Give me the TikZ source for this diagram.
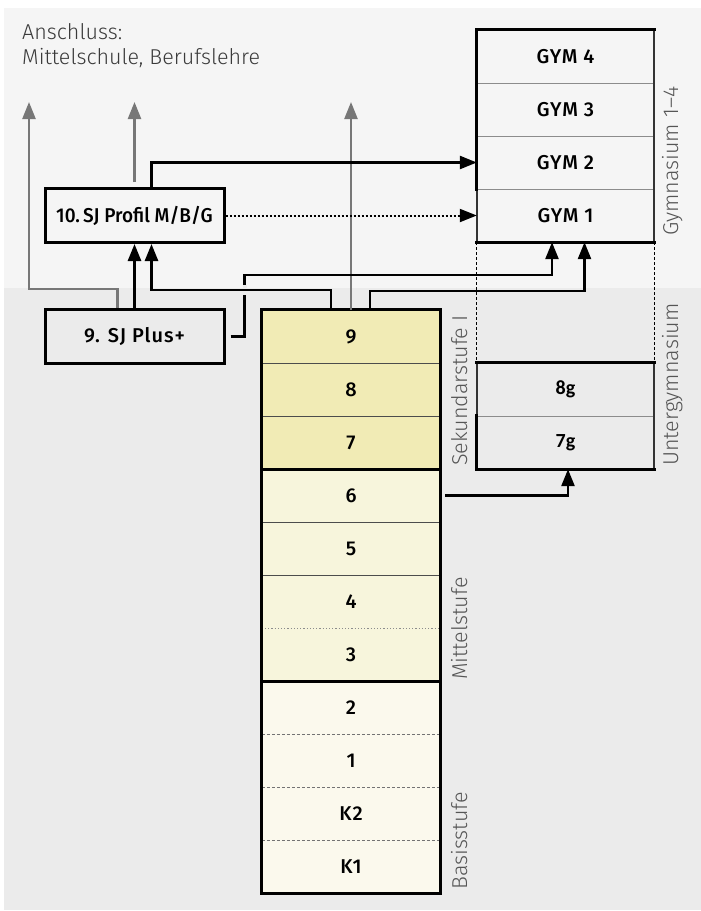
\documentclass[tikz,border=0pt]{standalone}
\usepackage{fontspec}
\setmainfont{Fira Sans}
\newfontfamily\carlito{Carlito}
\newfontfamily\gradefam{Fira Sans Medium}[LetterSpace=5]
\newfontfamily\lightfam{Fira Sans Light}
\usetikzlibrary{arrows.meta}

\definecolor{bgtop}{HTML}{F5F5F5}
\definecolor{bgbot}{HTML}{EBEBEB}
\definecolor{sekfill}{HTML}{F1EBB5}
\definecolor{midfill}{HTML}{F7F5DC}
\definecolor{basfill}{HTML}{FBF9ED}
\definecolor{outgray}{HTML}{777777}
\definecolor{labgray}{HTML}{555555}
\definecolor{headgray}{HTML}{3A3A3A}

\newcommand{\gradefont}{\gradefam\fontsize{20}{23}\selectfont}
\newcommand{\stufefont}{\lightfam\fontsize{21.5}{25}\selectfont}

\begin{document}
\begin{tikzpicture}[
  x=1pt, y=-1pt,
  grade/.style={minimum width=178pt, minimum height=53pt, inner sep=0pt,
                font=\gradefont},
  gymrow/.style={grade, minimum width=177pt},
  sjbox/.style={grade, minimum width=179pt, minimum height=54pt,
                draw, line width=3pt},
  sidelabel/.style={rotate=90, anchor=base west, inner sep=0pt,
                    text=labgray, font=\stufefont},
  frame/.style={line width=3pt, line cap=rect},
  thinframe/.style={line width=1.5pt, draw=black!80},
  sep/.style={line width=1pt, draw=black!70},
  gsep/.style={line width=1.2pt, draw=black!45},
  dotsep/.style={line width=1.2pt, draw=black!45, dotted},
  dashsep/.style={line width=1pt, draw=black!55, dash pattern=on 3pt off 2pt},
  barr/.style={-{Triangle[length=17pt, width=13pt]}, line width=2.6pt},
  garr/.style={-{Triangle[length=17pt, width=13pt]}, line width=2.4pt,
               draw=outgray},
  dotarr/.style={-{Triangle[length=17pt, width=13pt]}, line width=2pt,
                 dotted},
  gapmask/.style={draw=bgbot, line width=4pt},
  ]
  %% background
  \useasboundingbox (0,0) rectangle (701,911);
  \fill[bgtop] (4,8) rectangle (701,288);
  \fill[bgbot] (4,288) rectangle (701,910);

  %% Volksschule column
  \foreach \lab/\nm/\fc [count=\i] in {9/r9/sekfill, 8/r8/sekfill,
      7/r7/sekfill, 6/r6/midfill, 5/r5/midfill, 4/r4/midfill,
      3/r3/midfill, 2/r2/basfill, 1/r1/basfill, K2/rk2/basfill,
      K1/rk1/basfill}
    \node[grade, fill=\fc] (\nm) at (351, 283.5+53*\i) {\lab};
  \foreach \nm in {r9, r8, r6, r5}
    \draw[sep] (\nm.south west) -- (\nm.south east);
  \draw[dotsep] (r4.south west) -- (r4.south east);
  \foreach \nm in {r2, r1, rk2}
    \draw[dashsep] (\nm.south west) -- (\nm.south east);
  \draw[frame] (r9.north west) rectangle (rk1.south east);
  \draw[frame] (r7.south west) -- (r7.south east);
  \draw[frame] (r3.south west) -- (r3.south east);

  %% Gymnasium
  \foreach \lab/\nm [count=\i] in {GYM 4/g4, GYM 3/g3, GYM 2/g2, GYM 1/g1}
    \node[gymrow] (\nm) at (565.5, 3.5+53*\i) {\lab};
  \foreach \nm in {g4, g3, g2}
    \draw[gsep] (\nm.south west) -- (\nm.south east);
  \draw[thinframe] (g4.north west) rectangle (g1.south east);
  \draw[frame] (g2.south west) -- (g4.north west) -- (g4.north east);
  \draw[frame] (g1.south west) -- (g1.south east);

  %% Untergymnasium
  \node[gymrow, font=\carlito\bfseries\fontsize{20}{22}\selectfont] (ug8) at (565.5, 389.5) {8g};
  \node[gymrow, font=\carlito\bfseries\fontsize{20}{22}\selectfont] (ug7) at (565.5, 442.5) {7g};
  \draw[gsep] (ug8.south west) -- (ug8.south east);
  \draw[thinframe] (ug8.north west) rectangle (ug7.south east);
  \draw[frame] (ug8.north west) -- (ug8.north east);
  \draw[frame] (ug7.north west) -- (ug7.south west) -- (ug7.south east);
  \draw[line width=0.8pt, dash pattern=on 3pt off 2pt] (g1.south west) -- (ug8.north west);
  \draw[line width=0.8pt, dash pattern=on 3pt off 2pt] (g1.south east) -- (ug8.north east);

  %% Brueckenangebote
  \node[sjbox, fill=bgbot] (plus) at (134.5, 336.5) {9. SJ Plus+};
  \node[sjbox, fill=bgtop] (prof) at (134.5, 215.5)
    {\addfontfeature{LetterSpace=0}\scalebox{0.95}[1]{10.\,SJ Profil M/B/G}};

  %% exits
  \coordinate (outL) at (29, 102);
  \coordinate (outM) at (134.5, 102);
  \coordinate (outR) at (351, 102);
  \draw[garr] ([xshift=-17pt]plus.north) -- ++(0,-19) -| (outL);
  \draw[garr, shorten <=5pt] (prof.north) -- (outM);
  \draw[garr] (r9.north) -- (outR);

  %% transitions
  \draw[barr] ([xshift=17pt]prof.north) |- (g2.west);
  \draw[dotarr] (prof.east) -- (g1.west);
  \draw[barr] (plus.north) -- (prof.south);
  \draw[barr, shorten <=5pt] (plus.east) -- ++(19,0) coordinate (jump)
    -- ++(0,-61.5) -| ([xshift=-13.5pt]g1.south);
  \draw[gapmask] ([yshift=41.5pt]jump) -- ([yshift=51.5pt]jump);
  \draw[barr] ([xshift=-20pt]r9.north) -- ++(0,-20) -| ([xshift=17pt]prof.south);
  \draw[barr] ([xshift=19pt]r9.north) -- ++(0,-19) -| ([xshift=19pt]g1.south);
  \draw[barr, shorten <=5pt] (r6.east) -| ([xshift=2.5pt]ug7.south);

  %% labels
  \node[anchor=base west, inner sep=0pt, text=headgray, font=\stufefont]
    (anschl) at (22, 39) {Anschluss:};
  \node[anchor=base west, inner sep=0pt, text=headgray, font=\stufefont]
    (anschlziel) at (22, 64) {Mittelschule, Berufslehre};
  \node[sidelabel] (gymlab) at (678, 236) {Gymnasium 1–4};
  \node[sidelabel] (uglab) at (678, 466) {Untergymnasium};
  \node[sidelabel] (seklab) at (467, 466) {Sekundarstufe I};
  \node[sidelabel] (mitlab) at (467, 680) {Mittelstufe};
  \node[sidelabel] (baslab) at (467, 890) {Basisstufe};
\end{tikzpicture}
\end{document}
